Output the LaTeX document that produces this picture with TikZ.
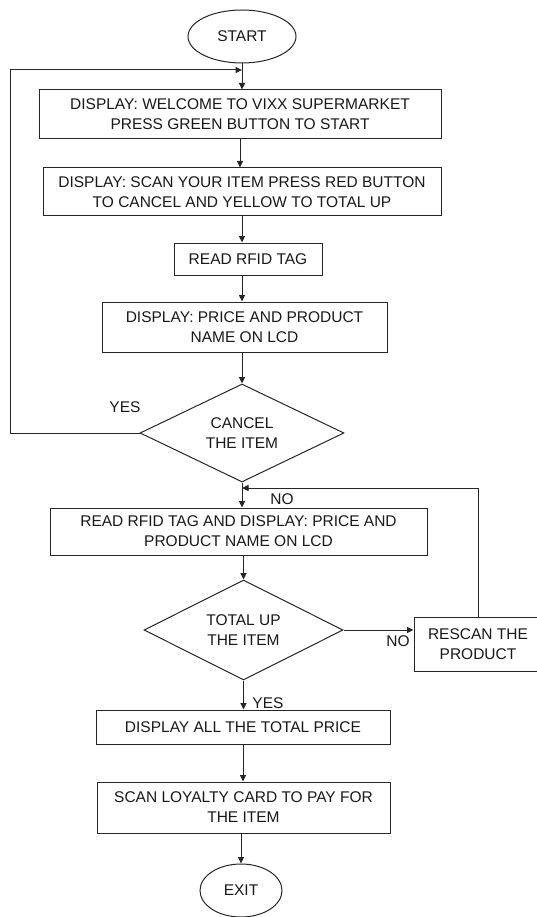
\documentclass[tikz,border=0pt]{standalone}
\usepackage{fontspec}
\setmainfont{Liberation Sans}
\usetikzlibrary{shapes.geometric,arrows.meta}
\begin{document}
\begin{tikzpicture}[x=1pt,y=-1pt,
  every node/.style={font=\fontsize{15.5}{20}\selectfont, text=black!90},
  box/.style={draw=black!85, line width=1pt, rectangle, inner sep=0pt, align=center},
  term/.style={draw=black!85, line width=1pt, ellipse, inner sep=0pt},
  dec/.style={draw=black!85, line width=1pt, diamond, inner sep=0pt, align=center, aspect=2},
  conn/.style={line width=1pt, draw=black!85},
  arr/.style={conn, -{Triangle[length=6.5pt,width=6pt]}},
  lbl/.style={inner sep=0pt}
]
\useasboundingbox (0,0) rectangle (536,917);

\node[term, minimum width=108pt, minimum height=53pt] (start) at (242,36.5) {START};
\node[box, minimum width=402pt, minimum height=49pt] (b1) at (240,114.5) {DISPLAY: WELCOME TO VIXX SUPERMARKET\\PRESS GREEN BUTTON TO START};
\node[box, minimum width=398pt, minimum height=48pt] (b2) at (242,192) {DISPLAY: SCAN YOUR ITEM PRESS RED BUTTON\\TO CANCEL AND YELLOW TO TOTAL UP};
\node[box, minimum width=148pt, minimum height=32pt] (b3) at (248,259) {READ RFID TAG};
\node[box, minimum width=285pt, minimum height=50pt] (b4) at (244.5,327) {DISPLAY: PRICE AND PRODUCT\\NAME ON LCD};
\node[dec, minimum width=204pt, minimum height=98pt] (d1) at (242,433) {CANCEL\\THE ITEM};
\node[box, minimum width=377pt, minimum height=47pt] (b5) at (238.5,531.5) {READ RFID TAG AND DISPLAY: PRICE AND\\PRODUCT NAME ON LCD};
\node[dec, minimum width=199pt, minimum height=100pt] (d2) at (243.5,630) {TOTAL UP\\THE ITEM};
\node[box, minimum width=128pt, minimum height=54pt] (r) at (478,644) {RESCAN THE\\PRODUCT};
\node[box, minimum width=294pt, minimum height=34pt] (b6) at (243,727) {DISPLAY ALL THE TOTAL PRICE};
\node[box, minimum width=293pt, minimum height=51pt] (b7) at (243.5,807.5) {SCAN LOYALTY CARD TO PAY FOR\\THE ITEM};
\node[term, minimum width=82pt, minimum height=53pt] (exit) at (241,890.5) {EXIT};

\node[lbl] (yes1) at (125,407) {YES};
\node[lbl] (no1) at (282,499) {NO};
\node[lbl] (no2) at (398,641) {NO};
\node[lbl] (yes2) at (268,703) {YES};

\coordinate (l1) at (10,70);
\coordinate (j2y) at (0,488);

\draw[arr] (start.south) -- (start.south |- b1.north);
\draw[arr] (d1.west) -- (d1.west -| l1) -- (l1) -- (start.south |- l1);
\draw[arr] (b1.south) -- (b1.south |- b2.north);
\draw[arr] (b2.south) -- (b2.south |- b3.north);
\draw[arr] (b3.south -| b2.south) -- (b2.south |- b4.north);
\draw[arr] (b4.south -| d1.north) -- (d1.north);
\draw[arr] (d1.south) -- (d1.south |- b5.north);
\draw[arr] (r.north) -- (r.north |- j2y) -- (d1.south |- j2y);
\draw[arr] (b5.south -| d2.north) -- (d2.north);
\draw[arr] (d2.east) -- (d2.east -| r.west);
\draw[arr] (d2.south) -- (d2.south |- b6.north);
\draw[arr] (b6.south) -- (b6.south |- b7.north);
\draw[arr] (b7.south -| exit.north) -- (exit.north);
\end{tikzpicture}
\end{document}
